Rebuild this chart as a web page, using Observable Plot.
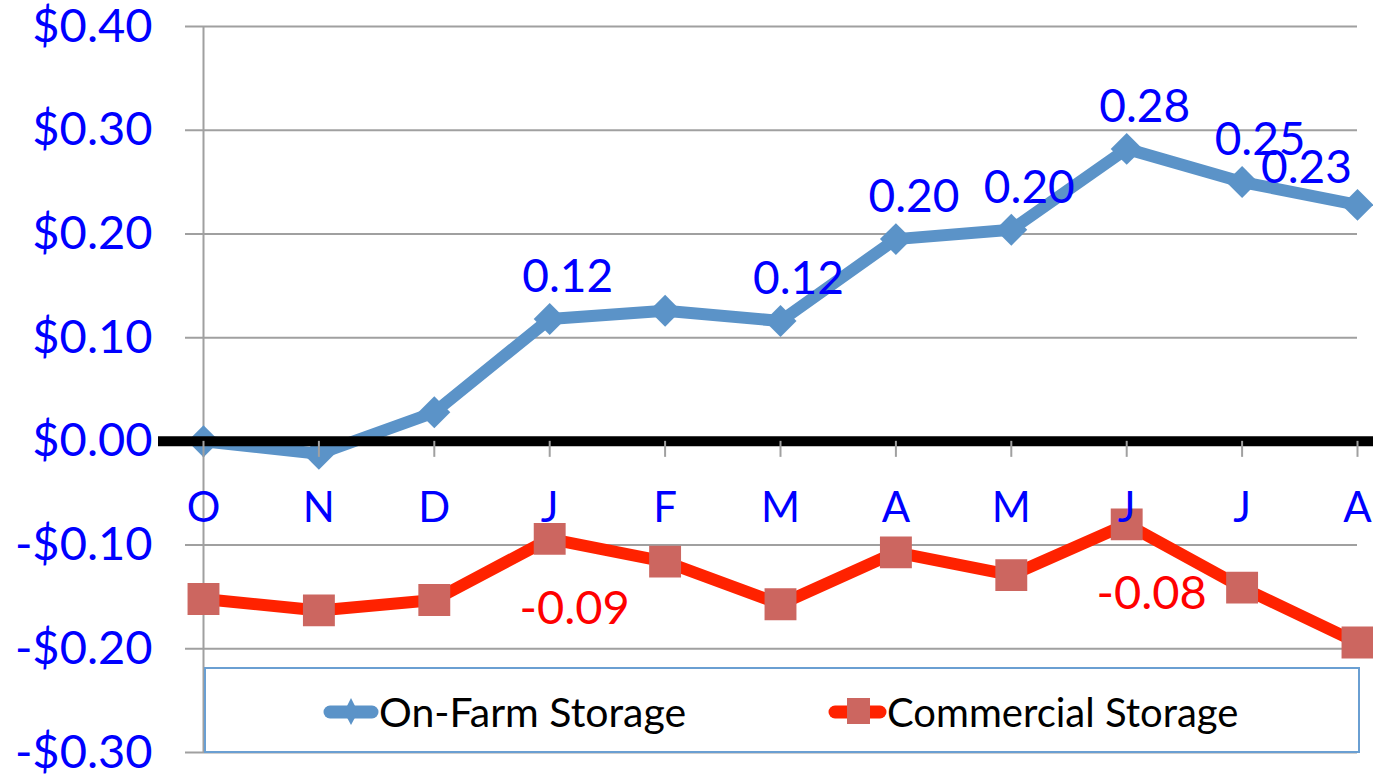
<!DOCTYPE html>
<html>
<head>
<meta charset="utf-8">
<script src="https://cdn.jsdelivr.net/npm/d3@7"></script>
<script src="https://cdn.jsdelivr.net/npm/@observablehq/plot@0.6"></script>
<style>
  html, body { margin: 0; padding: 0; background: #fff; }
  #wrap { position: relative; width: 1373px; height: 781px; overflow: hidden; }
  #legend { position: absolute; left: 0; top: 0; pointer-events: none; }
</style>
</head>
<body>
<div id="wrap"></div>
<script>
// ---- Data ----
const months = ["O", "N", "D", "J", "F", "M", "A", "M", "J", "J", "A"];
const onFarm = [0.000, -0.012, 0.028, 0.118, 0.126, 0.116, 0.195, 0.204, 0.282, 0.250, 0.228];
const commercial = [-0.152, -0.163, -0.153, -0.094, -0.116, -0.157, -0.107, -0.129, -0.080, -0.141, -0.194];
const onFarmLabels = ["", "", "", "0.12", "", "0.12", "0.20", "0.20", "0.28", "0.25", "0.23"];
const commercialLabels = ["", "", "", "-0.09", "", "", "", "", "-0.08", "", ""];
const yTicks = [-0.3, -0.2, -0.1, 0, 0.1, 0.2, 0.3, 0.4];
const seriesNames = ["On-Farm Storage", "Commercial Storage"];

const rows = months.map((m, i) => ({
  i, m,
  onFarm: onFarm[i], commercial: commercial[i],
  ofLabel: onFarmLabels[i], cLabel: commercialLabels[i]
}));

const BLUE_TXT = "#0000ff";
const RED_TXT = "#ff0000";
const OF_COL = "#5b93c8";
const C_LINE = "#ff2200";
const C_MARK = "#cc6660";
const GRID = "#a0a0a0";
const FONT = "Lato, 'Open Sans', sans-serif";

const fmt = d => (d < 0 ? "-" : "") + "$" + Math.abs(d).toFixed(2);

const chart = Plot.plot({
  width: 1373,
  height: 781,
  marginLeft: 203,
  marginRight: 16,
  marginTop: 26,
  marginBottom: 29,
  x: { domain: [0, months.length - 1], axis: null },
  y: { domain: [-0.3, 0.4], axis: null },
  style: { fontFamily: FONT, background: "white", overflow: "visible" },
  marks: [
    // gridlines with outer tick extension
    Plot.ruleY(yTicks.filter(d => d !== 0), { y: d => d, stroke: GRID, strokeWidth: 2, insetLeft: -18 }),
    // vertical axis
    Plot.ruleX([0], { x: d => d, stroke: GRID, strokeWidth: 2 }),
    // y tick labels
    Plot.text(yTicks, {
      y: d => d, frameAnchor: "left", dx: -51, textAnchor: "end",
      text: fmt, fill: BLUE_TXT, fontSize: 47
    }),
    // commercial series
    Plot.line(rows, { x: "i", y: "commercial", stroke: C_LINE, strokeWidth: 12, strokeLinejoin: "miter" }),
    Plot.dot(rows, { x: "i", y: "commercial", symbol: "square", r: 18, fill: C_MARK, stroke: "none" }),
    // on-farm series
    Plot.line(rows, { x: "i", y: "onFarm", stroke: OF_COL, strokeWidth: 12, strokeLinejoin: "miter" }),
    Plot.dot(rows, { x: "i", y: "onFarm", symbol: "diamond2", r: 14.4, fill: OF_COL, stroke: "none" }),
    // zero line
    Plot.ruleY([0], { y: d => d, stroke: "#000", strokeWidth: 10, insetLeft: -45, insetRight: -20 }),
    // month ticks on zero line
    Plot.ruleX(rows, { x: "i", y1: () => 0, y2: () => 0, insetBottom: -16, stroke: GRID, strokeWidth: 2 }),
    // month labels
    Plot.text(rows, { x: "i", y: () => 0, dy: 67, text: "m", fill: BLUE_TXT, fontSize: 42 }),
    // data labels
    Plot.text(rows, { filter: r => r.ofLabel && r.i < months.length - 1, x: "i", y: "onFarm", text: "ofLabel", dx: 18, dy: -42, fill: BLUE_TXT, fontSize: 46 }),
    Plot.text(rows, { filter: r => r.ofLabel && r.i === months.length - 1, x: "i", y: "onFarm", text: "ofLabel", dx: -51, dy: -37, fill: BLUE_TXT, fontSize: 46 }),
    Plot.text(rows, { filter: r => r.cLabel, x: "i", y: "commercial", text: "cLabel", dx: 25, dy: 70, fill: RED_TXT, fontSize: 47 })
  ]
});

const wrap = document.getElementById("wrap");
wrap.appendChild(chart);

// ---- Legend (inside the plot area, bottom) ----
const lg = d3.select(wrap).append("svg")
  .attr("id", "legend").attr("width", 1373).attr("height", 781)
  .style("font-family", FONT);
lg.append("rect").attr("x", 205).attr("y", 668).attr("width", 1154).attr("height", 84)
  .attr("fill", "#fff").attr("stroke", "#6a9fd2").attr("stroke-width", 2);
// item 1
lg.append("line").attr("x1", 330).attr("x2", 372).attr("y1", 712).attr("y2", 712)
  .attr("stroke", OF_COL).attr("stroke-width", 13).attr("stroke-linecap", "round");
lg.append("path").attr("d", "M351,698 L358,712 L351,725 L344,712 Z").attr("fill", OF_COL);
lg.append("text").attr("x", 379).attr("y", 727).attr("font-size", 41).attr("fill", "#000").text(seriesNames[0]);
// item 2
lg.append("line").attr("x1", 835).attr("x2", 880).attr("y1", 712).attr("y2", 712)
  .attr("stroke", C_LINE).attr("stroke-width", 13).attr("stroke-linecap", "round");
lg.append("rect").attr("x", 847).attr("y", 698).attr("width", 23).attr("height", 26).attr("fill", C_MARK);
lg.append("text").attr("x", 887).attr("y", 727).attr("font-size", 40).attr("fill", "#000").text(seriesNames[1]);
</script>
</body>
</html>
